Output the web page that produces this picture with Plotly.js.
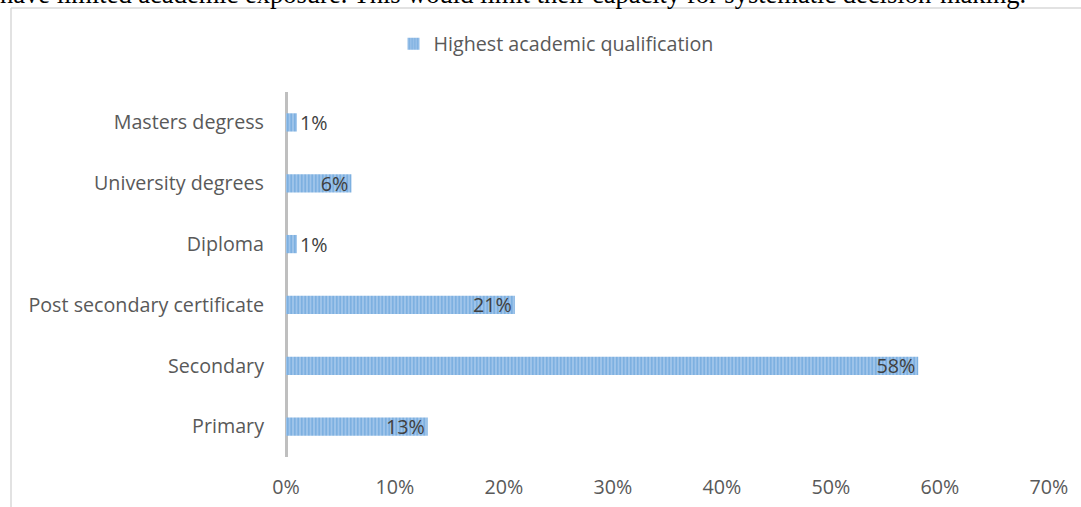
<!DOCTYPE html>
<html><head><meta charset="utf-8">
<script src="https://cdn.plot.ly/plotly-3.0.1.min.js"></script>
<style>html,body{margin:0;padding:0;background:#fff;overflow:hidden}#chart{width:1081px;height:507px}</style>
</head><body><div id="chart"></div>
<script>
const categories = ["Primary","Secondary","Post secondary certificate","Diploma","University degrees","Masters degress"];
const values = [0.13,0.58,0.21,0.01,0.06,0.01];
const valueLabels = ["13%","58%","21%","1%","6%","1%"];
const seriesName = "Highest academic qualification";
const xTicks = [0,0.1,0.2,0.3,0.4,0.5,0.6,0.7];
const xTickLabels = ["0%","10%","20%","30%","40%","50%","60%","70%"];
const headerText = "have limited academic exposure. This would limit their capacity for systematic decision-making.";

const L=286, R=32, T=92, B=50, W=1081, H=507;
const pw=W-L-R, ph=H-T-B;
const px = x => (x-L)/pw;
const py = y => 1-(y-T)/ph;

const font = "'Open Sans', Lato, sans-serif";
const fs = 19.7;
const trace = {
  type:'bar', orientation:'h', name:seriesName,
  y: categories, x: values, text: valueLabels,
  textposition: values.map(v => v < 0.03 ? 'outside' : 'inside'),
  insidetextanchor:'end', constraintext:'none', cliponaxis:false,
  textfont:{family:font,size:fs,color:'#404040'},
  insidetextfont:{family:font,size:fs,color:'#404040'},
  outsidetextfont:{family:font,size:fs,color:'#404040'},
  width:0.3,
  marker:{color:'#9fc4ea', line:{width:0},
    pattern:{shape:'|', fgcolor:'#5b9bd5', bgcolor:'#9fc4ea', size:3.5, solidity:0.5, fillmode:'overlay'}},
  hoverinfo:'none'
};
const layout = {
  width:W, height:H, margin:{l:L,r:R,t:T,b:B,pad:0},
  paper_bgcolor:'#fff', plot_bgcolor:'#fff', showlegend:true,
  font:{family:font,size:fs,color:'#595959'},
  xaxis:{range:[0,0.7], tickvals:xTicks, ticktext:xTickLabels, showgrid:false,
    zeroline:true, zerolinecolor:'#bfbfbf', zerolinewidth:3, showline:false, ticks:'',
    ticklabelstandoff:16, tickfont:{family:font,size:fs,color:'#595959'}, fixedrange:true},
  yaxis:{type:'category', categoryorder:'array', categoryarray:categories, showgrid:false, zeroline:false,
    showline:false, ticks:'', ticklabelstandoff:21, tickfont:{family:font,size:fs,color:'#595959'}, fixedrange:true},
  legend:{orientation:'h', x:px(556), xanchor:'center', y:py(44), yanchor:'middle',
    font:{family:font,size:fs,color:'#595959'}, itemwidth:30},
  shapes:[
    {type:'line', xref:'paper', yref:'paper', x0:px(11), x1:px(11), y0:py(8), y1:py(520), line:{color:'#d9d9d9',width:1.5}},
    {type:'line', xref:'paper', yref:'paper', x0:px(11), x1:px(1090), y0:py(8), y1:py(8), line:{color:'#d9d9d9',width:1.5}}
  ],
  annotations:[
    {xref:'paper', yref:'paper', x:px(-1), y:py(10), xanchor:'left', yanchor:'bottom', showarrow:false, borderpad:0,
     text:headerText,
     font:{family:"'Liberation Serif', 'Times New Roman', serif", size:26.5, color:'#000'}}
  ]
};
Plotly.newPlot('chart',[trace],layout,{staticPlot:true,displayModeBar:false});
</script></body></html>
